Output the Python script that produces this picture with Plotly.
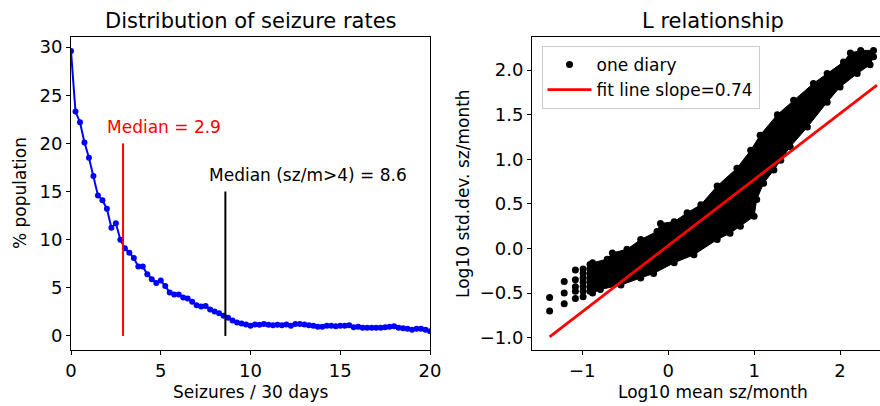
import plotly.graph_objects as go

W, H = 880, 406

# ---------------- data: left panel ----------------
rate_bins = [i * 0.25 for i in range(81)]  # seizures / 30 days (bin positions)
pct_population = [
    29.6, 23.3, 22.2, 20.1, 18.5, 16.6, 14.6, 14.1, 13.2, 11.25, 11.7, 10.0,
    9.1, 8.65, 8.1, 7.2, 7.2, 6.4, 5.9, 5.5, 5.75, 5.2, 4.5, 4.3, 4.3, 4.0,
    3.9, 3.55, 3.2, 3.05, 3.1, 2.75, 2.55, 2.35, 2.1, 1.9, 1.6, 1.4, 1.3, 1.2,
    1.05, 1.2, 1.15, 1.25, 1.15, 1.1, 1.15, 1.1, 1.2, 1.05, 1.25, 1.25, 1.2,
    1.1, 1.05, 0.95, 0.95, 1.05, 1.05, 1.0, 1.05, 1.05, 1.1, 0.9, 0.95, 0.85,
    0.85, 0.85, 0.85, 0.85, 0.9, 0.95, 1.0, 0.85, 0.8, 0.75, 0.65, 0.75, 0.75,
    0.65, 0.5,
]
median_all = 2.9
median_all_top = 20
median_high = 8.6
median_high_top = 15

# ---------------- data: right panel ----------------
# sparse diaries at the low end (discrete low means)
sparse_x = [-1.38, -1.38,
            -1.21, -1.21, -1.21,
            -1.08, -1.08, -1.08, -1.08, -1.08,
            -0.99, -0.99, -0.99, -0.99, -0.99, -0.99, -0.99,
            -0.91, -0.91, -0.91, -0.91, -0.91, -0.91, -0.91]
sparse_y = [-0.55, -0.70,
            -0.37, -0.50, -0.62,
            -0.24, -0.35, -0.43, -0.48, -0.56,
            -0.23, -0.28, -0.33, -0.38, -0.43, -0.48, -0.54,
            -0.18, -0.23, -0.28, -0.33, -0.38, -0.43, -0.48]
# dense cloud of diaries: upper edge (x increasing) and lower edge (x decreasing)
cloud_upper_x = [-0.88, -0.71, -0.65, -0.48, -0.32, -0.13, -0.09, 0.07, 0.22,
                 0.38, 0.57, 0.80, 0.96, 1.07, 1.27, 1.46, 1.69, 1.85, 2.04,
                 2.12, 2.24, 2.39]
cloud_upper_y = [-0.16, -0.12, -0.05, -0.01, 0.10, 0.19, 0.28, 0.30, 0.40,
                 0.49, 0.70, 0.90, 1.10, 1.27, 1.50, 1.66, 1.85, 1.96, 2.09,
                 2.19, 2.22, 2.22]
cloud_lower_x = [2.39, 2.35, 2.20, 2.00, 1.85, 1.62, 1.42, 1.31, 1.23, 1.11,
                 1.03, 1.00, 0.84, 0.72, 0.57, 0.30, 0.07, -0.17, -0.32, -0.55,
                 -0.79, -0.88]
cloud_lower_y = [2.15, 2.06, 1.96, 1.81, 1.64, 1.36, 1.14, 0.99, 0.88, 0.73,
                 0.55, 0.36, 0.25, 0.17, 0.10, -0.07, -0.16, -0.28, -0.33, -0.41,
                 -0.46, -0.50]
fit_x = [-1.38, 2.43]
fit_y = [-0.99, 1.83]
fit_slope = 0.74

# ---------------- layout geometry (pixels) ----------------
AX_TOP, AX_BOT = 37, 350
L_LEFT, L_RIGHT = 71, 430
R_LEFT = 532

def px(x):
    return x / W

def py(y):
    return 1 - y / H

FONT = "DejaVu Sans, Liberation Sans, sans-serif"
TXT = "#000000"
TICK = 18

fig = go.Figure()

# left panel
fig.add_trace(go.Scatter(
    x=rate_bins, y=pct_population, mode="lines+markers",
    line=dict(color="#0000ff", width=2),
    marker=dict(color="#0000ff", size=6),
    xaxis="x", yaxis="y", showlegend=False, hoverinfo="skip"))
fig.add_trace(go.Scatter(
    x=[median_all, median_all], y=[0, median_all_top], mode="lines",
    line=dict(color="#ff0000", width=2), xaxis="x", yaxis="y",
    showlegend=False))
fig.add_trace(go.Scatter(
    x=[median_high, median_high], y=[0, median_high_top], mode="lines",
    line=dict(color="#000000", width=2), xaxis="x", yaxis="y",
    showlegend=False))

# right panel
fig.add_trace(go.Scatter(
    x=cloud_upper_x + cloud_lower_x, y=cloud_upper_y + cloud_lower_y,
    mode="lines+markers", fill="toself", fillcolor="#000000",
    line=dict(color="#000000", width=1),
    marker=dict(color="#000000", size=7),
    xaxis="x2", yaxis="y2", showlegend=False, hoverinfo="skip"))
fig.add_trace(go.Scatter(
    x=sparse_x, y=sparse_y, mode="markers", name="one diary",
    marker=dict(color="#000000", size=7),
    xaxis="x2", yaxis="y2"))
fig.add_trace(go.Scatter(
    x=fit_x, y=fit_y, mode="lines", name=f"fit line slope={fit_slope}",
    line=dict(color="#ff0000", width=2.8),
    xaxis="x2", yaxis="y2"))

axis_common = dict(
    showgrid=False, zeroline=False, showline=True, linecolor="#000000",
    linewidth=1, ticks="outside", ticklen=4, tickwidth=1, tickcolor="#000000",
    tickfont=dict(family=FONT, size=TICK, color=TXT), automargin=False,
)

fig.update_layout(
    width=W, height=H,
    margin=dict(l=0, r=0, t=0, b=0, pad=0, autoexpand=False),
    paper_bgcolor="white", plot_bgcolor="white",
    font=dict(family=FONT, size=17, color=TXT),
    xaxis=dict(domain=[px(L_LEFT), px(L_RIGHT)], range=[0, 20],
               tickvals=[0, 5, 10, 15, 20], mirror=True, anchor="y",
               **axis_common),
    yaxis=dict(domain=[py(AX_BOT), py(AX_TOP)], range=[-1.46, 31.05],
               tickvals=[0, 5, 10, 15, 20, 25, 30], mirror=True, anchor="x",
               **axis_common),
    xaxis2=dict(domain=[px(R_LEFT), 1.0], range=[-1.585, 2.465],
                tickvals=[-1, 0, 1, 2], mirror=True, anchor="y2",
                **axis_common),
    yaxis2=dict(domain=[py(AX_BOT), py(AX_TOP)], range=[-1.138, 2.37],
                tickvals=[-1.0, -0.5, 0.0, 0.5, 1.0, 1.5, 2.0],
                tickformat=".1f", anchor="x2", **axis_common),
    legend=dict(x=px(541.5), y=py(46), xanchor="left", yanchor="top",
                bgcolor="white", bordercolor="#cccccc", borderwidth=1,
                font=dict(family=FONT, size=17, color=TXT),
                itemwidth=44, tracegroupgap=0),
)

ann = []
# titles
ann.append(dict(text="Distribution of seizure rates", x=px((L_LEFT + L_RIGHT) / 2),
                y=py(21), xref="paper", yref="paper", showarrow=False,
                xanchor="center", yanchor="middle",
                font=dict(family=FONT, size=21, color=TXT)))
ann.append(dict(text="L relationship", x=px(712.5), y=py(21),
                xref="paper", yref="paper", showarrow=False,
                xanchor="center", yanchor="middle",
                font=dict(family=FONT, size=21, color=TXT)))
# axis titles
ann.append(dict(text="Seizures / 30 days", x=px((L_LEFT + L_RIGHT) / 2),
                y=py(392), xref="paper", yref="paper", showarrow=False,
                xanchor="center", yanchor="middle",
                font=dict(family=FONT, size=17, color=TXT)))
ann.append(dict(text="Log10 mean sz/month", x=px(712.5), y=py(392),
                xref="paper", yref="paper", showarrow=False,
                xanchor="center", yanchor="middle",
                font=dict(family=FONT, size=17, color=TXT)))
ann.append(dict(text="% population", x=px(20.5), y=py(193.5),
                xref="paper", yref="paper", showarrow=False, textangle=-90,
                xanchor="center", yanchor="middle",
                font=dict(family=FONT, size=17, color=TXT)))
ann.append(dict(text="Log10 std.dev. sz/month", x=px(463.5), y=py(193.5),
                xref="paper", yref="paper", showarrow=False, textangle=-90,
                xanchor="center", yanchor="middle",
                font=dict(family=FONT, size=17, color=TXT)))
# median labels
ann.append(dict(text=f"Median = {median_all}", x=median_all - 1, y=median_all_top + 1,
                xref="x", yref="y", showarrow=False, xanchor="left",
                yanchor="bottom", yshift=-5,
                font=dict(family=FONT, size=17, color="#ff0000")))
ann.append(dict(text=f"Median (sz/m>4) = {median_high}", x=median_high - 1,
                y=median_high_top + 1, xref="x", yref="y", showarrow=False,
                xanchor="left", yanchor="bottom", yshift=-5,
                font=dict(family=FONT, size=17, color=TXT)))
fig.update_layout(annotations=ann)

fig.write_html(
    "out.html",
    config={"displayModeBar": False},
    post_script="document.body.style.margin='0';document.body.style.overflow='hidden';",
)
